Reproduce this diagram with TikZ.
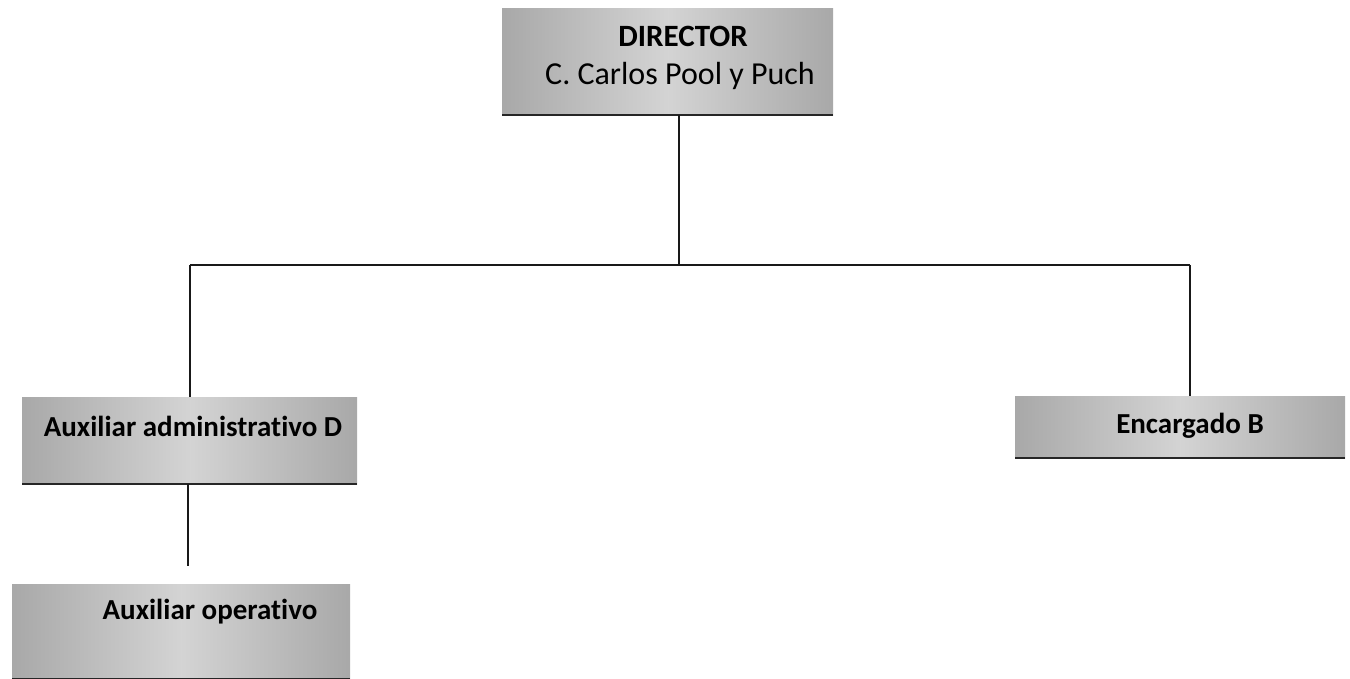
\documentclass[tikz,border=0pt]{standalone}
\usepackage{fontspec}
\setmainfont[Ligatures=NoCommon]{Carlito}
\begin{document}
\begin{tikzpicture}[x=1pt,y=-1pt,
  box/.style={anchor=north west, inner sep=0pt, left color=black!34, right color=black!34, middle color=black!17,
    path picture={\draw[line width=1.6pt, black!85] (path picture bounding box.south west) -- (path picture bounding box.south east);}},
  lbl/.style={inner sep=0pt, font=\bfseries\fontsize{29}{34}\selectfont},
  sub/.style={inner sep=0pt, font=\fontsize{32}{38}\selectfont},
  conn/.style={line width=1.4pt, black!90}]
\useasboundingbox (0,0) rectangle (1350,679);
% boxes
\node[box, minimum width=331pt, minimum height=107pt] (dir) at (502,8) {};
\node[box, minimum width=335pt, minimum height=87pt] (aux) at (22,397) {};
\node[box, minimum width=330pt, minimum height=62pt] (enc) at (1015,396) {};
\node[box, minimum width=338pt, minimum height=95pt] (op) at (12,584) {};
% labels
\node[lbl, font=\bfseries\fontsize{31}{36}\selectfont] (dirt) at (683,36) {DIRECTOR};
\node[sub] (dirn) at (680,76) {C. Carlos Pool y Puch};
\node[lbl] (auxt) at (193,426) {Auxiliar administrativo D};
\node[lbl] (enct) at (1190,426) {Encargado B};
\node[lbl] (opt) at (210,612) {Auxiliar operativo};
% connectors
\coordinate (j) at (679,265);
\coordinate (bl) at (190,265);
\coordinate (br) at (1190,265);
\draw[conn] (dir.south -| j) -- (j);
\draw[conn] (bl) -- (br);
\draw[conn] (bl) -- (bl |- aux.north);
\draw[conn] (br) -- (br |- enc.north);
\coordinate (v) at (188,0);
\draw[conn, shorten >=18pt] (aux.south -| v) -- (op.north -| v);
\end{tikzpicture}
\end{document}
